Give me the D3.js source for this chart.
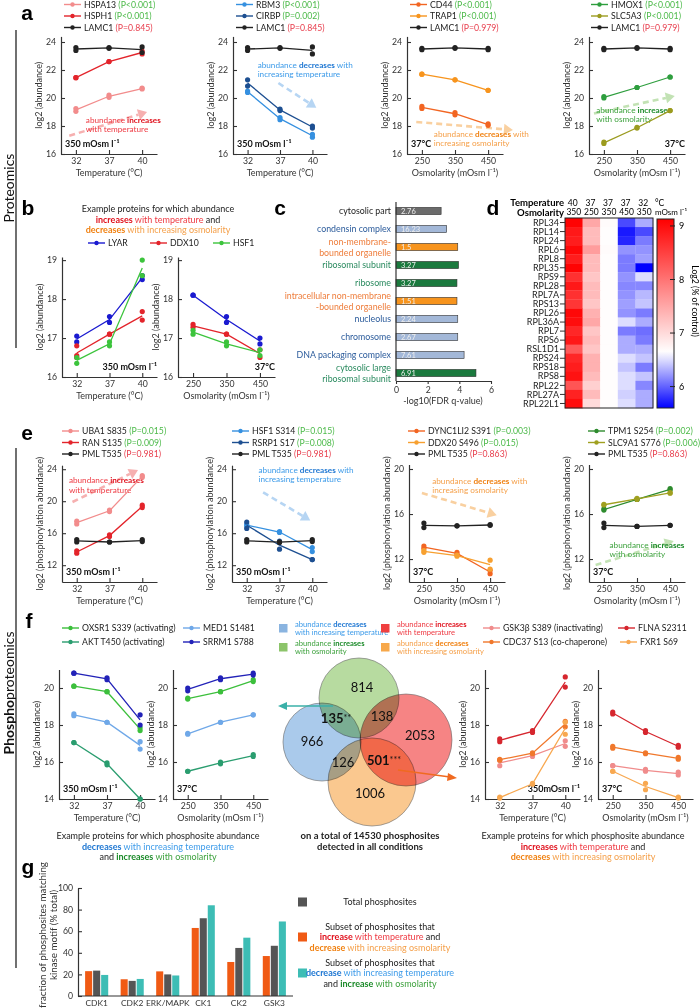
<!DOCTYPE html>
<html>
<head>
<meta charset="utf-8">
<script src="https://d3js.org/d3.v7.min.js"></script>
<style>
  body { margin: 0; background: #fff; }
</style>
</head>
<body>
<script>
var FONT = "Lato, 'Open Sans', 'Liberation Sans', sans-serif";
var W = 700, H = 1008;

// ---------- data ----------
var temps = [32, 37, 40];
var osms = [250, 350, 450];

// a: proteomics examples
var aTempUp = [
  {name: "HSPA13", p: "P<0.001", sig: 1, color: "#f28c8c", reps: [[19.25, 19.05], [20.2, 20.05], [20.7, 20.65]]},
  {name: "HSPH1", p: "P<0.001", sig: 1, color: "#e3242b", reps: [[21.45, 21.45], [22.6, 22.6], [23.35, 23.15]]},
  {name: "LAMC1", p: "P=0.845", sig: 0, color: "#222", reps: [[23.6, 23.4], [23.6, 23.55], [23.65, 23.25]]}
];
var aTempDown = [
  {name: "RBM3", p: "P<0.001", sig: 1, color: "#3590e0", reps: [[20.5, 20.4], [18.6, 18.45], [17.4, 17.2]]},
  {name: "CIRBP", p: "P=0.002", sig: 1, color: "#1d4f91", reps: [[21.3, 20.85], [19.2, 19.1], [18.0, 17.85]]},
  {name: "LAMC1", p: "P=0.845", sig: 0, color: "#222", reps: [[23.6, 23.4], [23.6, 23.55], [23.65, 23.15]]}
];
var aOsmDown = [
  {name: "CD44", p: "P<0.001", sig: 1, color: "#f26522", reps: [[19.4, 19.25], [18.95, 18.8], [18.15, 18.05]]},
  {name: "TRAP1", p: "P<0.001", sig: 1, color: "#f7941d", reps: [[21.7, 21.7], [21.3, 21.3], [20.55, 20.55]]},
  {name: "LAMC1", p: "P=0.979", sig: 0, color: "#222", reps: [[23.55, 23.45], [23.6, 23.55], [23.55, 23.45]]}
];
var aOsmUp = [
  {name: "HMOX1", p: "P<0.001", sig: 1, color: "#2e9e3e", reps: [[20.1, 20.0], [20.75, 20.75], [21.5, 21.5]]},
  {name: "SLC5A3", p: "P<0.001", sig: 1, color: "#9b9b1f", reps: [[16.85, 16.75], [17.9, 17.85], [19.1, 19.1]]},
  {name: "LAMC1", p: "P=0.979", sig: 0, color: "#222", reps: [[23.55, 23.45], [23.6, 23.55], [23.55, 23.45]]}
];

// b
var bTemp = [
  {name: "LYAR", color: "#1a1ad0", reps: [[17.05, 16.9], [17.55, 17.4], [18.6, 18.5]]},
  {name: "DDX10", color: "#e3242b", reps: [[16.8, 16.55, 16.5], [17.1, 17.1], [17.68, 17.46]]},
  {name: "HSF1", color: "#3cc43c", reps: [[16.5, 16.35], [16.9, 16.8], [19.0, 18.6]]}
];
var bOsm = [
  {name: "LYAR", color: "#1a1ad0", reps: [[18.1, 18.1], [17.55, 17.4], [17.0, 16.85]]},
  {name: "DDX10", color: "#e3242b", reps: [[17.35, 17.28], [17.1, 17.1], [16.7, 16.5]]},
  {name: "HSF1", color: "#3cc43c", reps: [[17.2, 17.1], [16.9, 16.8], [16.7, 16.55]]}
];

// c: GO enrichment
var cTerms = ["cytosolic part", "condensin complex", "non-membrane-\nbounded organelle", "ribosomal subunit", "ribosome",
  "intracellular non-membrane\n-bounded organelle", "nucleolus", "chromosome", "DNA packaging complex", "cytosolic large\nribosomal subunit"];
var cScores = [2.85, 3.2, 3.9, 3.95, 3.85, 3.85, 3.9, 3.9, 4.3, 5.05];
var cInside = ["2.76", "16.23", "1.5", "3.27", "3.27", "1.51", "2.24", "2.67", "7.61", "6.91"];
var cGroup = ["gray", "blue", "orange", "green", "green", "orange", "blue", "blue", "blue", "green"];

// d: heatmap
var dGenes = ["RPL34", "RPL14", "RPL24", "RPL6", "RPL8", "RPL35", "RPS9", "RPL28", "RPL7A", "RPS13", "RPL26",
  "RPL36A", "RPL7", "RPS6", "RSL1D1", "RPS24", "RPS18", "RPS8", "RPL22", "RPL27A", "RPL22L1"];
var dTemps = ["40", "37", "37", "37", "32"];
var dOsms = ["350", "250", "350", "450", "350"];
var dVals = [
  [9.1, 7.5, 6.68, 5.9, 6.3], [8.9, 7.3, 6.66, 5.7, 5.9], [8.85, 7.3, 6.66, 5.75, 6.1], [9.05, 7.6, 6.68, 6.2, 6.2],
  [8.85, 7.3, 6.66, 6.1, 6.25], [9.1, 7.3, 6.66, 6.1, 5.6], [8.65, 7.2, 6.66, 6.2, 6.5], [8.9, 7.3, 6.66, 6.15, 6.15],
  [8.65, 7.3, 6.66, 6.2, 6.35], [8.6, 7.2, 6.66, 6.25, 6.4], [9.05, 7.4, 6.66, 6.2, 6.1], [9.0, 7.5, 6.66, 6.5, 6.3],
  [8.75, 7.2, 6.66, 6.1, 6.05], [8.9, 7.3, 6.66, 6.3, 6.1], [8.25, 7.2, 6.66, 6.3, 6.3], [8.75, 7.4, 6.66, 6.5, 6.4],
  [8.85, 7.4, 6.66, 6.4, 6.1], [8.95, 7.3, 6.66, 6.5, 6.4], [8.3, 7.1, 6.66, 6.5, 6.15], [8.8, 7.3, 6.66, 6.45, 6.3],
  [9.0, 7.0, 6.66, 6.5, 6.3]
];
var dScale = [5.6, 9.13];

// e: phosphosites
var eTempUp = [
  {name: "UBA1 S835", p: "P=0.015", sig: 1, color: "#f28c8c", reps: [[17.5, 17.15], [18.9, 18.7], [23.2, 23.0]]},
  {name: "RAN S135", p: "P=0.009", sig: 1, color: "#e3242b", reps: [[13.8, 13.5], [15.8, 15.6], [19.5, 19.2]]},
  {name: "PML T535", p: "P=0.981", sig: 0, color: "#222", reps: [[15.2, 14.9], [14.9, 14.9], [15.2, 14.95]]}
];
var eTempDown = [
  {name: "HSF1 S314", p: "P=0.015", sig: 1, color: "#3590e0", reps: [[17.1, 16.9], [16.2, 16.1], [14.2, 13.7]]},
  {name: "RSRP1 S17", p: "P=0.008", sig: 1, color: "#1d4f91", reps: [[17.4, 16.6], [15.0, 14.0], [12.7, 12.7]]},
  {name: "PML T535", p: "P=0.981", sig: 0, color: "#222", reps: [[15.2, 14.9], [14.9, 14.85], [15.2, 14.95]]}
];
var eOsmDown = [
  {name: "DYNC1LI2 S391", p: "P=0.003", sig: 1, color: "#f26522", reps: [[13.15, 12.95], [12.6, 12.4], [11.0, 10.7]]},
  {name: "DDX20 S496", p: "P=0.015", sig: 1, color: "#f7a030", reps: [[12.75, 12.6], [12.35, 12.25], [11.9, 11.1]]},
  {name: "PML T535", p: "P=0.863", sig: 0, color: "#222", reps: [[15.2, 14.8], [14.95, 14.95], [15.05, 15.0]]}
];
var eOsmUp = [
  {name: "TPM1 S254", p: "P=0.002", sig: 1, color: "#2e8b2e", reps: [[16.45, 16.35], [17.3, 17.3], [18.25, 18.15]]},
  {name: "SLC9A1 S776", p: "P=0.006", sig: 1, color: "#a0a020", reps: [[16.85, 16.8], [17.4, 17.3], [17.9, 17.85]]},
  {name: "PML T535", p: "P=0.863", sig: 0, color: "#222", reps: [[15.2, 14.8], [14.9, 14.9], [15.0, 15.0]]}
];

// f: example phosphosites
var fDownUpTemp = [
  {name: "OXSR1 S339 (activating)", color: "#3cbf3c", reps: [[20.1, 20.1], [19.8, 19.8], [17.85, 17.7]]},
  {name: "MED1 S1481", color: "#6fa8e8", reps: [[18.6, 18.5], [18.15, 18.15], [17.1, 16.7]]},
  {name: "AKT T450 (activating)", color: "#2a9d6f", reps: [[17.05, 17.05], [15.95, 15.85], [14.0, 14.0]]},
  {name: "SRRM1 S788", color: "#2222b8", reps: [[20.8, 20.8], [20.55, 20.45], [18.55, 18.0]]}
];
var fDownUpOsm = [
  {name: "OXSR1 S339 (activating)", color: "#3cbf3c", reps: [[19.45, 19.4], [19.8, 19.8], [20.45, 20.35]]},
  {name: "MED1 S1481", color: "#6fa8e8", reps: [[17.55, 17.5], [18.15, 18.15], [18.55, 18.55]]},
  {name: "AKT T450 (activating)", color: "#2a9d6f", reps: [[15.5, 15.5], [16.0, 15.9], [16.4, 16.3]]},
  {name: "SRRM1 S788", color: "#2222b8", reps: [[20.0, 19.85], [20.55, 20.45], [20.8, 20.7]]}
];
var fUpDownTemp = [
  {name: "GSK3\u03b2 S389 (inactivating)", color: "#f08c8c", reps: [[16.1, 15.8], [16.4, 16.3], [17.15, 16.85]]},
  {name: "FLNA S2311", color: "#d6262e", reps: [[17.25, 17.1], [17.7, 17.6], [20.6, 20.05]]},
  {name: "CDC37 S13 (co-chaperone)", color: "#f0782c", reps: [[16.15, 16.1], [16.5, 16.45], [18.2, 17.9]]},
  {name: "FXR1 S69", color: "#f8a850", reps: [[14.1, 14.05], [14.85, 14.8], [18.15, 17.5]]}
];
var fUpDownOsm = [
  {name: "GSK3\u03b2 S389 (inactivating)", color: "#f08c8c", reps: [[15.8, 15.8], [15.6, 15.5], [15.45, 15.3]]},
  {name: "FLNA S2311", color: "#d6262e", reps: [[18.7, 18.6], [17.7, 17.6], [16.9, 16.8]]},
  {name: "CDC37 S13 (co-chaperone)", color: "#f0782c", reps: [[16.85, 16.75], [16.5, 16.45], [16.25, 16.15]]},
  {name: "FXR1 S69", color: "#f8a850", reps: [[15.5, 15.5], [14.85, 14.5], [14.1, 14.05]]}
];
var vennCounts = [
  {t: "814", set: "g"}, {t: "966", set: "b"}, {t: "2053", set: "r"}, {t: "1006", set: "o"},
  {t: "135", star: "**", set: "bg"}, {t: "138", set: "gr"}, {t: "126", set: "bo"}, {t: "501", star: "***", set: "ro"}
];

// g: kinase motifs
var gKinases = ["CDK1", "CDK2", "ERK/MAPK", "CK1", "CK2", "GSK3"];
var gUpDown = [23, 15.5, 22.8, 63, 31.5, 37];
var gTotal = [23.5, 14, 20, 72, 44.5, 46.5];
var gDownUp = [19.5, 15.8, 19, 84, 54, 69];

// ---------- styling ----------
var PG = "#4dba4a", PR = "#e8404f";
var TONE = {
  red: {txt: "#ee3a43", bold: "#e0101c", arrow: "#f6b0b0"},
  blue: {txt: "#3d9be9", bold: "#1d76d2", arrow: "#b6d5f3"},
  orange: {txt: "#f5a04a", bold: "#f08010", arrow: "#f9d0a0"},
  green: {txt: "#3ea23e", bold: "#1a8a28", arrow: "#c2e2b4"}
};

var svg = d3.select("body").append("svg").attr("width", W).attr("height", H)
  .attr("font-family", FONT).style("background", "#fff");

function rich(g, x, y, parts, size, anchor) {
  var t = g.append("text").attr("x", x).attr("y", y).attr("dy", "0.35em")
    .attr("font-size", size).attr("text-anchor", anchor || "start").attr("fill", "#222");
  parts.forEach(function(p) {
    var s = t.append("tspan").text(p.t);
    if (p.c) s.attr("fill", p.c);
    if (p.b) s.attr("font-weight", "bold");
  });
  return t;
}

function dashedArrow(g, a, b, color) {
  var ang = Math.atan2(b[1] - a[1], b[0] - a[0]);
  var L = 9, hw = 5.5;
  var bx = b[0] - L * Math.cos(ang), by = b[1] - L * Math.sin(ang);
  g.append("line").attr("x1", a[0]).attr("y1", a[1]).attr("x2", bx).attr("y2", by)
    .attr("stroke", color).attr("stroke-width", 2.6).attr("stroke-dasharray", "6,4");
  g.append("path")
    .attr("d", "M" + b[0] + "," + b[1] + "L" + (bx + hw * Math.sin(ang)) + "," + (by - hw * Math.cos(ang)) +
      "L" + (bx - hw * Math.sin(ang)) + "," + (by + hw * Math.cos(ang)) + "Z")
    .attr("fill", color);
}

function legendItem(x, y, it) {
  var g = svg.append("g");
  g.append("line").attr("x1", x).attr("x2", x + 17).attr("y1", y).attr("y2", y)
    .attr("stroke", it.color).attr("stroke-width", 1.4);
  g.append("circle").attr("cx", x + 8.5).attr("cy", y).attr("r", 2.2).attr("fill", it.color);
  var parts = [{t: it.name + (it.p ? " " : "")}];
  if (it.p) parts.push({t: "(" + it.p + ")", c: it.sig ? PG : PR});
  rich(g, x + 20, y, parts, 8.7);
}

function styleAxis(a) {
  a.attr("font-size", 8.7).attr("font-family", FONT);
  a.select(".domain").attr("stroke", "#333").attr("stroke-width", 1.2);
  a.selectAll(".tick line").attr("stroke", "#333").attr("stroke-width", 1.1);
  a.selectAll(".tick text").attr("fill", "#333");
}

function linePlot(cfg) {
  var g = svg.append("g");
  var x = d3.scalePoint().domain(cfg.xs).range([cfg.x0, cfg.x0 + cfg.w]).padding(0.45);
  var y = d3.scaleLinear().domain(cfg.yd).range(cfg.yr);
  var fx = function(i) { return x(cfg.xs[0]) + i * x.step(); };
  var base = cfg.yr[0];

  var ax = g.append("g").attr("transform", "translate(0," + base + ")")
    .call(d3.axisBottom(x).tickSize(-4).tickSizeOuter(0).tickPadding(4));
  var ay = g.append("g").attr("transform", "translate(" + cfg.x0 + ",0)")
    .call(d3.axisLeft(y).tickValues(cfg.yt).tickFormat(d3.format("d")).tickSize(-4).tickSizeOuter(0).tickPadding(5));
  styleAxis(ax); styleAxis(ay);

  g.append("text").attr("x", cfg.x0 + cfg.w / 2).attr("y", base + 18.5).attr("dy", "0.35em")
    .attr("text-anchor", "middle").attr("font-size", 9).attr("fill", "#333").text(cfg.xTitle);
  g.append("text").attr("transform", "translate(" + (cfg.x0 - 22) + "," + ((cfg.yr[0] + cfg.yr[1]) / 2) + ") rotate(-90)")
    .attr("text-anchor", "middle").attr("dy", "0.35em").attr("font-size", 9).attr("fill", "#333").text(cfg.yTitle);

  if (cfg.note) {
    var n = cfg.note, col = TONE[n.tone];
    if (n.arrow) dashedArrow(g, [fx(n.arrow[0][0]), y(n.arrow[0][1])], [fx(n.arrow[1][0]), y(n.arrow[1][1])], col.arrow);
    n.lines.forEach(function(line, k) {
      var parts = line.split("*").map(function(s, j) { return {t: s, b: j % 2 === 1, c: j % 2 ? col.bold : col.txt}; })
        .filter(function(p) { return p.t; });
      rich(g, fx(n.at[0]), y(n.at[1]) + k * 9.5, parts, 8.2);
    });
  }

  if (cfg.cond) {
    g.append("text").attr("x", cfg.cond.right ? cfg.x0 + cfg.w : cfg.x0 + 4).attr("y", base - 10)
      .attr("dy", "0.35em").attr("text-anchor", cfg.cond.right ? "end" : "start")
      .attr("font-weight", "bold").attr("font-size", 9).attr("fill", "#111").text(cfg.cond.text);
  }

  var line = d3.line().x(function(d, i) { return x(cfg.xs[i]); }).y(function(d) { return y(d); });
  cfg.series.forEach(function(s) {
    var means = s.reps.map(function(r) { return d3.mean(r); });
    g.append("path").attr("d", line(means)).attr("fill", "none")
      .attr("stroke", s.color).attr("stroke-width", 1.3);
    var pts = [];
    s.reps.forEach(function(r, i) { r.forEach(function(v) { pts.push([cfg.xs[i], v]); }); });
    g.selectAll(null).data(pts).enter().append("circle")
      .attr("cx", function(d) { return x(d[0]); }).attr("cy", function(d) { return y(d[1]); })
      .attr("r", 2.6).attr("fill", s.color);
  });

  if (cfg.legend) {
    cfg.series.forEach(function(s, k) { legendItem(cfg.legend[0], cfg.legend[1] + k * 11.5, s); });
  }
}

// ---------- panel letters & side labels ----------
[["a", 27, 13], ["b", 28, 208], ["c", 280, 208], ["d", 493, 208], ["e", 27, 433], ["f", 29, 621], ["g", 28, 867]]
  .forEach(function(p) {
    svg.append("text").attr("x", p[1]).attr("y", p[2]).attr("dy", "0.35em").attr("text-anchor", "middle")
      .attr("font-family", "'Liberation Sans', Arial, sans-serif").attr("font-weight", "bold")
      .attr("font-size", 21).text(p[0]);
  });

svg.append("line").attr("x1", 16).attr("x2", 16).attr("y1", 30).attr("y2", 348).attr("stroke", "#111").attr("stroke-width", 1.2);
svg.append("line").attr("x1", 16).attr("x2", 16).attr("y1", 448).attr("y2", 968).attr("stroke", "#111").attr("stroke-width", 1.2);
svg.append("text").attr("transform", "translate(9,188) rotate(-90)").attr("text-anchor", "middle").attr("dy", "0.35em")
  .attr("font-size", 14).attr("fill", "#111").text("Proteomics");
var ph = svg.append("text").attr("transform", "translate(9,693) rotate(-90)").attr("text-anchor", "middle")
  .attr("dy", "0.35em").attr("font-size", 14).attr("fill", "#111");
ph.append("tspan").attr("font-weight", "bold").text("Phospho");
ph.append("tspan").text("proteomics");

// ---------- panel a ----------
var TT = "Temperature (\u00b0C)", OT = "Osmolarity (mOsm l\u207b\u00b9)";
var M350 = "350 mOsm l\u207b\u00b9";
var aY = {yd: [16, 24.4], yr: [154, 36.4], yt: [16, 18, 20, 22, 24], yTitle: "log2 (abundance)"};
function withY(base, extra) { return Object.assign({}, base, extra); }

linePlot(withY(aY, {x0: 61, w: 96, xs: temps, xTitle: TT, series: aTempUp, legend: [64, 4.5],
  cond: {text: M350},
  note: {tone: "red", at: [0.3, 18.43], lines: ["abundance *increases*", "with temperature"], arrow: [[-0.2, 17.3], [2.15, 19.0]]}}));
linePlot(withY(aY, {x0: 233, w: 94, xs: temps, xTitle: TT, series: aTempDown, legend: [236, 4.5],
  cond: {text: M350},
  note: {tone: "blue", at: [0.31, 22.36], lines: ["abundance *decreases* with", "increasing temperature"], arrow: [[0.95, 21.07], [2.12, 19.3]]}}));
linePlot(withY(aY, {x0: 407, w: 96, xs: osms, xTitle: OT, series: aOsmDown, legend: [410, 4.5],
  cond: {text: "37\u00b0C"},
  note: {tone: "orange", at: [0.36, 17.43], lines: ["abundance *decreases* with", "increasing osmolarity"], arrow: [[-0.17, 18.29], [2.75, 17.71]]}}));
linePlot(withY(aY, {x0: 589, w: 96, xs: osms, xTitle: OT, series: aOsmUp, legend: [591, 4.5],
  cond: {text: "37\u00b0C", right: true},
  note: {tone: "green", at: [-0.23, 19.14], lines: ["abundance *increases*", "with osmolarity"], arrow: [[-0.3, 18.9], [2.14, 20.14]]}}));

// ---------- panel b ----------
var bg = svg.append("g");
rich(bg, 158, 209, [{t: "Example proteins for which abundance"}], 9, "middle");
rich(bg, 158, 219.5, [{t: "increases", b: 1, c: TONE.red.bold}, {t: " with temperature", c: TONE.red.txt}, {t: " and"}], 9, "middle");
rich(bg, 158, 230, [{t: "decreases", b: 1, c: TONE.orange.bold}, {t: " with increasing osmolarity", c: TONE.orange.txt}], 9, "middle");
[88, 150, 213].forEach(function(xx, k) { legendItem(xx, 243, bTemp[k]); });
var bY = {yd: [16, 19.08], yr: [377, 257], yt: [16, 17, 18, 19], yTitle: "log2 (abundance)"};
linePlot(withY(bY, {x0: 62, w: 95, xs: temps, xTitle: TT, series: bTemp, cond: {text: M350, right: true}}));
linePlot(withY(bY, {x0: 178, w: 97, xs: osms, xTitle: OT, series: bOsm, cond: {text: "37\u00b0C", right: true}}));

// ---------- panel c ----------
(function() {
  var g = svg.append("g");
  var x = d3.scaleLinear().domain([0, 6]).range([396, 491]);
  var y = d3.scaleBand().domain(d3.range(cTerms.length)).range([202, 382]);
  var fill = {gray: "#6b6b6b", blue: "#a3b8d8", orange: "#f7941d", green: "#1b7a3e"};
  var lab = {gray: "#222", blue: "#2b5b9b", orange: "#ee7d3b", green: "#2a8a5f"};
  g.selectAll(null).data(cScores).enter().append("rect")
    .attr("x", x(0)).attr("y", function(d, i) { return y(i) + y.bandwidth() / 2 - 3.6; })
    .attr("width", function(d) { return x(d) - x(0); }).attr("height", 7.2)
    .attr("fill", function(d, i) { return fill[cGroup[i]]; }).attr("stroke", "#333").attr("stroke-width", 0.6);
  g.selectAll(null).data(cInside).enter().append("text")
    .attr("x", x(0) + 5).attr("y", function(d, i) { return y(i) + y.bandwidth() / 2; }).attr("dy", "0.35em")
    .attr("font-size", 7.5).attr("fill", "#eee").text(function(d) { return d; });
  cTerms.forEach(function(t, i) {
    var ls = t.split("\n");
    ls.forEach(function(l, k) {
      g.append("text").attr("x", 391).attr("y", y(i) + y.bandwidth() / 2 + (k - (ls.length - 1) / 2) * 11)
        .attr("dy", "0.35em").attr("text-anchor", "end").attr("font-size", 8.8).attr("fill", lab[cGroup[i]]).text(l);
    });
  });
  var ax = g.append("g").attr("transform", "translate(0,381)")
    .call(d3.axisBottom(x).tickValues([0, 2, 4, 6]).tickSize(3).tickSizeOuter(0).tickFormat(d3.format("d")));
  styleAxis(ax);
  g.append("line").attr("x1", 396).attr("x2", 396).attr("y1", 202).attr("y2", 381).attr("stroke", "#333").attr("stroke-width", 1.2);
  g.append("text").attr("x", 443).attr("y", 401).attr("dy", "0.35em").attr("text-anchor", "middle")
    .attr("font-size", 9).attr("fill", "#333").text("-log10(FDR q-value)");
})();

// ---------- panel d ----------
(function() {
  var g = svg.append("g");
  var x = d3.scaleBand().domain(d3.range(5)).range([565, 653]);
  var y = d3.scaleBand().domain(dGenes).range([218, 408]);
  var color = d3.scaleLinear().domain([5.6, 6.64, 9.13]).range(["#0000ff", "#ffffff", "#ff0000"]).clamp(true);
  dVals.forEach(function(row, r) {
    g.selectAll(null).data(row).enter().append("rect")
      .attr("x", function(d, c) { return x(c); }).attr("y", y(dGenes[r]))
      .attr("width", x.bandwidth() + 0.3).attr("height", y.bandwidth() + 0.3)
      .attr("fill", function(d) { return color(d); });
  });
  g.append("rect").attr("x", 565).attr("y", 218).attr("width", 88).attr("height", 190)
    .attr("fill", "none").attr("stroke", "#222").attr("stroke-width", 1);
  dGenes.forEach(function(gn) {
    var yy = y(gn) + y.bandwidth() / 2;
    g.append("line").attr("x1", 560).attr("x2", 565).attr("y1", yy).attr("y2", yy).attr("stroke", "#333");
    g.append("text").attr("x", 559).attr("y", yy).attr("dy", "0.35em").attr("text-anchor", "end")
      .attr("font-size", 9).attr("fill", "#222").text(gn);
  });
  g.append("text").attr("x", 564).attr("y", 203).attr("dy", "0.35em").attr("text-anchor", "end")
    .attr("font-size", 9.5).attr("font-weight", "bold").text("Temperature");
  g.append("text").attr("x", 564).attr("y", 212.5).attr("dy", "0.35em").attr("text-anchor", "end")
    .attr("font-size", 9.5).attr("font-weight", "bold").text("Osmolarity");
  dTemps.forEach(function(t, c) {
    g.append("text").attr("x", x(c) + x.bandwidth() / 2 - 1).attr("y", 203).attr("dy", "0.35em")
      .attr("text-anchor", "middle").attr("font-size", 8.5).text(t);
  });
  dOsms.forEach(function(t, c) {
    g.append("text").attr("x", x(c) + x.bandwidth() / 2).attr("y", 212.5).attr("dy", "0.35em")
      .attr("text-anchor", "middle").attr("font-size", 8.5).text(t);
  });
  g.append("text").attr("x", 655).attr("y", 203).attr("dy", "0.35em").attr("font-size", 8.5).text("\u00b0C");
  g.append("text").attr("x", 655).attr("y", 212.5).attr("dy", "0.35em").attr("font-size", 8).text("mOsm l\u207b\u00b9");

  // colour bar
  var cy = d3.scaleLinear().domain(dScale).range([408, 219]);
  var grad = svg.append("defs").append("linearGradient").attr("id", "cbar")
    .attr("x1", 0).attr("x2", 0).attr("y1", 1).attr("y2", 0);
  d3.range(0, 1.0001, 0.05).forEach(function(t) {
    var v = dScale[0] + t * (dScale[1] - dScale[0]);
    grad.append("stop").attr("offset", t).attr("stop-color", color(v));
  });
  g.append("rect").attr("x", 657).attr("y", 219).attr("width", 17).attr("height", 189)
    .attr("fill", "url(#cbar)").attr("stroke", "#222").attr("stroke-width", 1);
  [6, 7, 8, 9].forEach(function(v) {
    g.append("line").attr("x1", 670).attr("x2", 675).attr("y1", cy(v)).attr("y2", cy(v)).attr("stroke", "#222");
    g.append("text").attr("x", 679).attr("y", cy(v)).attr("dy", "0.35em").attr("font-size", 9).text(v);
  });
  g.append("text").attr("transform", "translate(695,301) rotate(90)").attr("text-anchor", "middle")
    .attr("dy", "0.35em").attr("font-size", 8.7).text("Log2 (% of control)");
})();

// ---------- panel e ----------
var PT = "log2 (phosphorylation abundance)";
var eYa = {yd: [9.9, 24.5], yr: [582, 465.2], yt: [12, 16, 20, 24], yTitle: PT};
var eYb = {yd: [9.96, 20.4], yr: [582, 464.5], yt: [12, 16, 20], yTitle: PT};
linePlot(withY(eYa, {x0: 62, w: 95, xs: temps, xTitle: TT, series: eTempUp, legend: [62, 431],
  cond: {text: M350},
  note: {tone: "red", at: [-0.24, 22.6], lines: ["abundance *increases*", "with temperature"], arrow: [[-0.13, 19.9], [1.87, 23.9]]}}));
linePlot(withY(eYa, {x0: 232, w: 95, xs: temps, xTitle: TT, series: eTempDown, legend: [232, 431],
  cond: {text: M350},
  note: {tone: "blue", at: [0.36, 23.9], lines: ["abundance *decreases* with", "increasing temperature"], arrow: [[0.5, 21.1], [1.94, 17.6]]}}));
linePlot(withY(eYb, {x0: 409, w: 96, xs: osms, xTitle: OT, series: eOsmDown, legend: [408, 431],
  cond: {text: "37\u00b0C"},
  note: {tone: "orange", at: [0.25, 18.93], lines: ["abundance *decreases* with", "increasing osmolarity"], arrow: [[-0.06, 17.87], [2.2, 15.9]]}}));
linePlot(withY(eYb, {x0: 589, w: 96, xs: osms, xTitle: OT, series: eOsmUp, legend: [588, 431],
  cond: {text: "37\u00b0C"},
  note: {tone: "green", at: [0.17, 13.24], lines: ["abundance *increases*", "with osmolarity"], arrow: [[-0.25, 11.47], [2.11, 13.6]]}}));

// ---------- panel f ----------
var fY = {yd: [14, 21], yr: [799, 669.5], yt: [14, 16, 18, 20], yTitle: "log2 (abundance)"};
[[62, 628], [183, 628], [62, 642], [183, 642]].forEach(function(p, k) { legendItem(p[0], p[1], fDownUpTemp[k]); });
[[483, 628], [618, 628], [483, 642], [620, 642]].forEach(function(p, k) { legendItem(p[0], p[1], fUpDownTemp[k]); });
linePlot(withY(fY, {x0: 59, w: 96, xs: temps, xTitle: TT, series: fDownUpTemp, cond: {text: M350}}));
linePlot(withY(fY, {x0: 173, w: 95, xs: osms, xTitle: OT, series: fDownUpOsm, cond: {text: "37\u00b0C"}}));
linePlot(withY(fY, {x0: 485, w: 95, xs: temps, xTitle: TT, series: fUpDownTemp, cond: {text: "350mOsm l\u207b\u00b9", right: true}}));
linePlot(withY(fY, {x0: 598, w: 95, xs: osms, xTitle: OT, series: fUpDownOsm, cond: {text: "37\u00b0C"}}));

(function() {
  var g = svg.append("g");
  rich(g, 158, 836, [{t: "Example proteins for which phosphosite abundance"}], 9, "middle");
  rich(g, 158, 846.5, [{t: "decreases", b: 1, c: TONE.blue.bold}, {t: " with increasing temperature", c: TONE.blue.txt}], 9, "middle");
  rich(g, 158, 857, [{t: "and "}, {t: "increases", b: 1, c: TONE.green.bold}, {t: " with osmolarity", c: TONE.green.txt}], 9, "middle");
  rich(g, 583, 836, [{t: "Example proteins for which phosphosite abundance"}], 9, "middle");
  rich(g, 583, 846.5, [{t: "increases", b: 1, c: TONE.red.bold}, {t: " with temperature", c: TONE.red.txt}, {t: " and"}], 9, "middle");
  rich(g, 583, 857, [{t: "decreases", b: 1, c: TONE.orange.bold}, {t: " with increasing osmolarity", c: TONE.orange.txt}], 9, "middle");
  rich(g, 370, 836, [{t: "on a total of 14530 phosphosites", b: 1}], 9.5, "middle");
  rich(g, 370, 847, [{t: "detected in all conditions", b: 1}], 9.5, "middle");

  // venn legend
  var sq = [
    {x: 279, y: 624, c: "#8ab4e0", tone: "blue", l1: ["abundance ", "decreases"], l2: "with increasing temperature"},
    {x: 381, y: 624, c: "#f04040", tone: "red", l1: ["abundance ", "increases"], l2: "with temperature"},
    {x: 279, y: 643, c: "#8cc46a", tone: "green", l1: ["abundance ", "increases"], l2: "with osmolarity"},
    {x: 381, y: 643, c: "#f7a84a", tone: "orange", l1: ["abundance ", "decreases"], l2: "with increasing osmolarity"}
  ];
  sq.forEach(function(s) {
    var col = TONE[s.tone];
    g.append("rect").attr("x", s.x).attr("y", s.y).attr("width", 8.5).attr("height", 8.5).attr("fill", s.c);
    rich(g, s.x + 16, s.y + 0.5, [{t: s.l1[0], c: col.txt}, {t: s.l1[1], b: 1, c: col.bold}], 7.6);
    rich(g, s.x + 16, s.y + 8.5, [{t: s.l2, c: col.txt}], 7.6);
  });

  // venn circles
  var circ = {
    b: {cx: 322, cy: 742, r: 39, c: "#8db8e4"},
    g: {cx: 359, cy: 698, r: 40, c: "#9fcf80"},
    r: {cx: 406, cy: 740, r: 46, c: "#f35b5b"},
    o: {cx: 372, cy: 782, r: 44, c: "#f8b56a"}
  };
  var pos = {g: [362, 687], b: [312, 741], r: [420, 735], o: [370, 793], bg: [336, 718], gr: [382, 716], bo: [343, 762], ro: [384, 760]};
  ["b", "g", "r", "o"].forEach(function(k) {
    var c = circ[k];
    g.append("circle").attr("cx", c.cx).attr("cy", c.cy).attr("r", c.r).attr("fill", c.c)
      .attr("fill-opacity", 0.75).style("mix-blend-mode", "multiply")
      .attr("stroke", "#666").attr("stroke-width", 0.6);
  });
  vennCounts.forEach(function(v) {
    var p = pos[v.set];
    var t = g.append("text").attr("x", p[0]).attr("y", p[1]).attr("dy", "0.35em").attr("text-anchor", "middle")
      .attr("font-size", 13).attr("fill", "#111");
    t.append("tspan").attr("font-weight", v.star ? "bold" : null).text(v.t);
    if (v.star) t.append("tspan").attr("font-size", 9).attr("dy", "-0.2em").text(v.star);
  });
  g.append("line").attr("x1", 333).attr("y1", 706).attr("x2", 284).attr("y2", 706).attr("stroke", "#3ab0a8").attr("stroke-width", 1.5);
  g.append("path").attr("d", "M278,706L287,702L287,710Z").attr("fill", "#3ab0a8");
  g.append("line").attr("x1", 398).attr("y1", 770).attr("x2", 450).attr("y2", 777).attr("stroke", "#f06a20").attr("stroke-width", 1.5);
  g.append("path").attr("d", "M457,778L448,773L447,781Z").attr("fill", "#f06a20");
})();

// ---------- panel g ----------
(function() {
  var g = svg.append("g");
  var x = d3.scaleBand().domain(gKinases).range([78, 293]).paddingInner(0.35).paddingOuter(0.2);
  var sub = d3.scaleBand().domain([0, 1, 2]).range([0, x.bandwidth()]).paddingInner(0.12);
  var y = d3.scaleLinear().domain([0, 100]).range([996, 888]);
  var series = [gUpDown, gTotal, gDownUp];
  var cols = ["#f05a14", "#555555", "#3dbdb5"];
  series.forEach(function(s, k) {
    g.selectAll(null).data(s).enter().append("rect")
      .attr("x", function(d, i) { return x(gKinases[i]) + sub(k); })
      .attr("y", function(d) { return y(d); })
      .attr("width", sub.bandwidth()).attr("height", function(d) { return y(0) - y(d); })
      .attr("fill", cols[k]);
  });
  var ay = g.append("g").attr("transform", "translate(78,0)")
    .call(d3.axisLeft(y).tickValues([0, 20, 40, 60, 80, 100]).tickSize(-4).tickSizeOuter(0).tickPadding(5));
  styleAxis(ay);
  var ax = g.append("g").attr("transform", "translate(0,996)").call(d3.axisBottom(x).tickSize(0).tickPadding(4));
  styleAxis(ax);
  ax.selectAll(".tick text").attr("font-size", 8.4);
  ax.select(".domain").attr("d", "M78,0H293");
  g.append("text").attr("transform", "translate(43,935) rotate(-90)").attr("text-anchor", "middle").attr("dy", "0.35em")
    .attr("font-size", 9.8).attr("fill", "#333").text("fraction of phosphosites matching");
  g.append("text").attr("transform", "translate(54,935) rotate(-90)").attr("text-anchor", "middle").attr("dy", "0.35em")
    .attr("font-size", 9.8).attr("fill", "#333").text("kinase motif (% total)");

  var leg = [
    {c: cols[1], y: 902, lines: [[{t: "Total phosphosites"}]]},
    {c: cols[0], y: 937, lines: [[{t: "Subset of phosphosites that"}],
      [{t: "increase", b: 1, c: TONE.red.bold}, {t: " with temperature", c: TONE.red.txt}, {t: " and"}],
      [{t: "decrease", b: 1, c: TONE.orange.bold}, {t: " with increasing osmolarity", c: TONE.orange.txt}]]},
    {c: cols[2], y: 973, lines: [[{t: "Subset of phosphosites that"}],
      [{t: "decrease", b: 1, c: TONE.blue.bold}, {t: " with increasing temperature", c: TONE.blue.txt}],
      [{t: "and "}, {t: "increase", b: 1, c: TONE.green.bold}, {t: " with osmolarity", c: TONE.green.txt}]]}
  ];
  leg.forEach(function(l) {
    g.append("rect").attr("x", 298).attr("y", l.y - 4.5).attr("width", 9).attr("height", 9).attr("fill", l.c);
    l.lines.forEach(function(parts, k) {
      rich(g, 380, l.y + (k - (l.lines.length - 1) / 2) * 10.5, parts, 9, "middle");
    });
  });
})();
</script>
</body>
</html>
